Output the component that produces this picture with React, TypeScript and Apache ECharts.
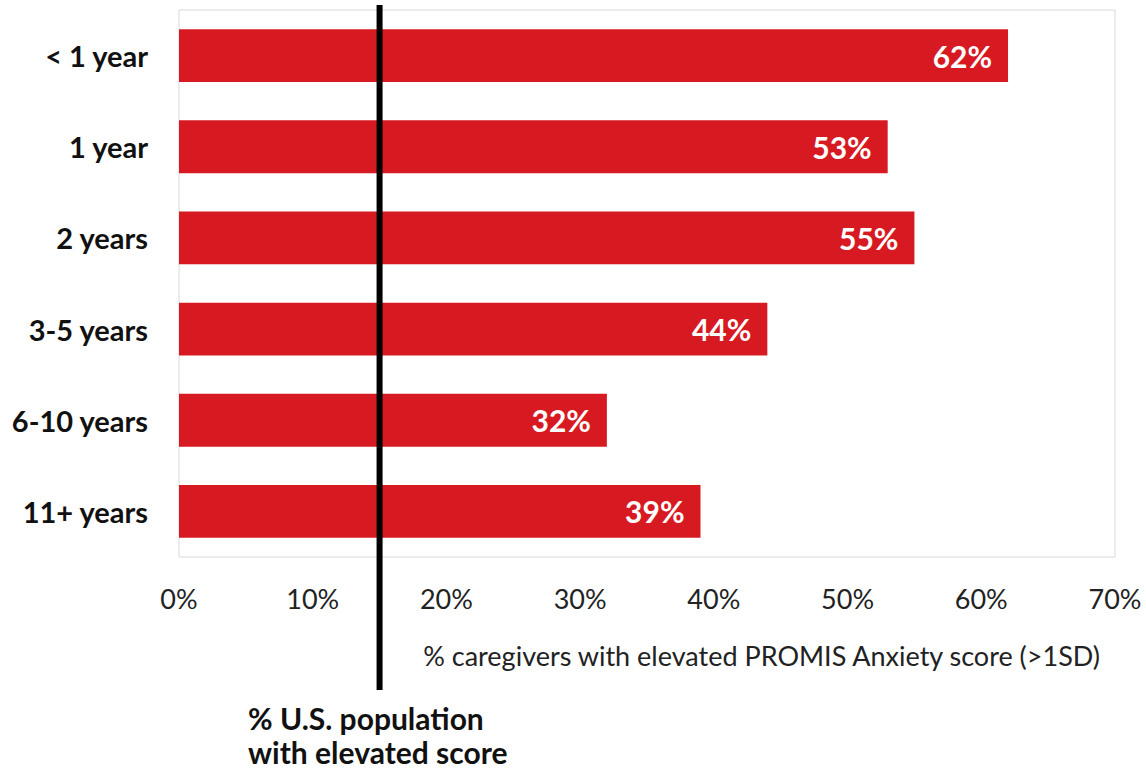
import React, { useEffect, useRef } from "react";
import * as echarts from "echarts";

const categories = ["< 1 year", "1 year", "2 years", "3-5 years", "6-10 years", "11+ years"];
const values = [62, 53, 55, 44, 32, 39];
const usPopulation = 15;
const xTicks = [0, 10, 20, 30, 40, 50, 60, 70];
const axisTitle = "% caregivers with elevated PROMIS Anxiety score (>1SD)";
const refLabel = ["% U.S. population", "with elevated score"];

export default function App() {
  const ref = useRef<HTMLDivElement>(null);
  useEffect(() => {
    if (!ref.current) return;
    const chart = echarts.init(ref.current, null, { renderer: "svg" });
    const font = "Lato, 'Open Sans', sans-serif";
    chart.setOption({
      animation: false,
      textStyle: { fontFamily: font },
      grid: {
        left: 179,
        top: 10,
        right: 31,
        bottom: 213,
        show: true,
        borderColor: "#d9d9d9",
        borderWidth: 1,
        backgroundColor: "transparent",
      },
      xAxis: {
        type: "value",
        min: xTicks[0],
        max: xTicks[xTicks.length - 1],
        interval: 10,
        axisLine: { show: false },
        axisTick: { show: false },
        splitLine: { show: false },
        axisLabel: {
          formatter: (v: number) => `${v}%`,
          fontSize: 27,
          color: "#222",
          margin: 28,
          fontFamily: font,
        },
      },
      yAxis: {
        type: "category",
        data: categories,
        inverse: true,
        axisLine: { show: false },
        axisTick: { show: false },
        axisLabel: {
          fontSize: 29,
          fontWeight: "bold",
          color: "#111",
          margin: 31,
          fontFamily: font,
          padding: [0, 0, 3, 0],
        },
      },
      series: [
        {
          type: "bar",
          data: values,
          barCategoryGap: "42%",
          itemStyle: { color: "#D71A21" },
          label: {
            show: true,
            position: "insideRight",
            distance: 16,
            formatter: (p: any) => `${p.value}%`,
            color: "#fff",
            fontWeight: "bold",
            fontSize: 30,
            fontFamily: font,
          },
        },
      ],
    });
    const lx = chart.convertToPixel({ xAxisIndex: 0 }, usPopulation) as number;
    chart.setOption({
      graphic: [
        {
          type: "line",
          shape: { x1: lx, y1: 5, x2: lx, y2: 690 },
          style: { stroke: "#000", lineWidth: 6 },
          z: 100,
        },
        {
          type: "text",
          x: 1100,
          y: 655,
          style: {
            text: axisTitle,
            fill: "#222",
            fontSize: 27,
            fontFamily: font,
            textAlign: "right",
            textVerticalAlign: "middle",
          },
        },
        {
          type: "text",
          x: 248,
          y: 718,
          style: {
            text: refLabel[0],
            fill: "#111",
            fontSize: 30,
            fontWeight: "bold",
            fontFamily: font,
            textAlign: "left",
            textVerticalAlign: "middle",
          },
        },
        {
          type: "text",
          x: 248,
          y: 752,
          style: {
            text: refLabel[1],
            fill: "#111",
            fontSize: 30,
            fontWeight: "bold",
            fontFamily: font,
            textAlign: "left",
            textVerticalAlign: "middle",
          },
        },
      ],
    });
    return () => chart.dispose();
  }, []);
  return (
    <div
      ref={ref}
      style={{ position: "absolute", left: 0, top: 0, width: 1146, height: 770, background: "#fff" }}
    />
  );
}
